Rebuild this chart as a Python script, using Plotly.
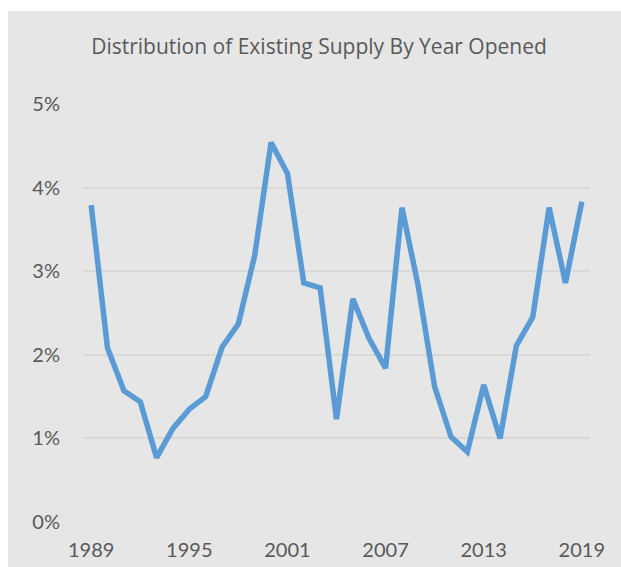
import plotly.graph_objects as go

years = list(range(1989, 2020))
share_pct = [3.79, 2.08, 1.57, 1.44, 0.77, 1.12, 1.35, 1.50, 2.09, 2.37,
             3.19, 4.54, 4.17, 2.86, 2.80, 1.23, 2.67, 2.19, 1.84, 3.76,
             2.82, 1.62, 1.02, 0.84, 1.64, 1.00, 2.11, 2.45, 3.76, 2.86, 3.83]
tick_years = [1989, 1995, 2001, 2007, 2013, 2019]
y_ticks = [0, 1, 2, 3, 4, 5]
y_tick_text = ["0%", "1%", "2%", "3%", "4%", "5%"]
title_text = "Distribution of Existing Supply By Year Opened"

# The page body has an 8px margin at top/left/right (bottom margin removed
# below), so page coordinates = figure coordinates + 8.
W, H = 605, 556
L, R, T, B = 75, 23, 96, 42
pw, ph = W - L - R, H - T - B

fig = go.Figure()
fig.add_trace(go.Scatter(x=years, y=share_pct, mode="lines",
                         line=dict(color="#5B9BD5", width=5.5),
                         hoverinfo="x+y"))

# thin white strip along the top of the figure (gray chart area starts below)
fig.add_shape(type="rect", xref="paper", yref="paper", layer="below",
              x0=-(L + 5) / pw, x1=(W - L + 5) / pw,
              y0=(H - B - 3) / ph, y1=(H - B + 5) / ph,
              fillcolor="#FFFFFF", line=dict(width=0))

tick_font = "Lato, 'Open Sans', sans-serif"
fig.update_layout(
    width=W, height=H,
    margin=dict(l=L, r=R, t=T, b=B, autoexpand=False),
    paper_bgcolor="#E6E6E6", plot_bgcolor="#E6E6E6",
    showlegend=False,
    title=dict(text=title_text, x=311 / W, xanchor="center", xref="container",
               y=1 - 39 / H, yanchor="middle", yref="container",
               font=dict(family="'Open Sans', sans-serif", size=21,
                         color="#595959")),
    xaxis=dict(range=[1988.5, 2019.5], tickvals=tick_years,
               ticktext=[str(y) for y in tick_years],
               showgrid=False, zeroline=False, showline=False,
               ticks="", ticklabelstandoff=14, automargin=False,
               tickfont=dict(family=tick_font, size=20, color="#595959")),
    yaxis=dict(range=[0, 5], tickvals=y_ticks, ticktext=y_tick_text,
               showgrid=True, gridcolor="#D9D9D9", gridwidth=1.5,
               zeroline=False, showline=False, ticks="",
               ticklabelstandoff=22, automargin=False,
               tickfont=dict(family=tick_font, size=20, color="#595959")),
)

# page: no bottom body margin; background white strip at the top/left and
# gray to the right/bottom edges
page_css = ("document.body.style.marginBottom='0px';"
            "document.documentElement.style.background="
            "'linear-gradient(#ffffff,#ffffff) 0 0/100% 11px no-repeat,"
            "linear-gradient(#ffffff,#ffffff) 0 0/8px 100% no-repeat,#E6E6E6';")

fig.write_html("out.html", post_script=page_css,
               config={"displayModeBar": False})
